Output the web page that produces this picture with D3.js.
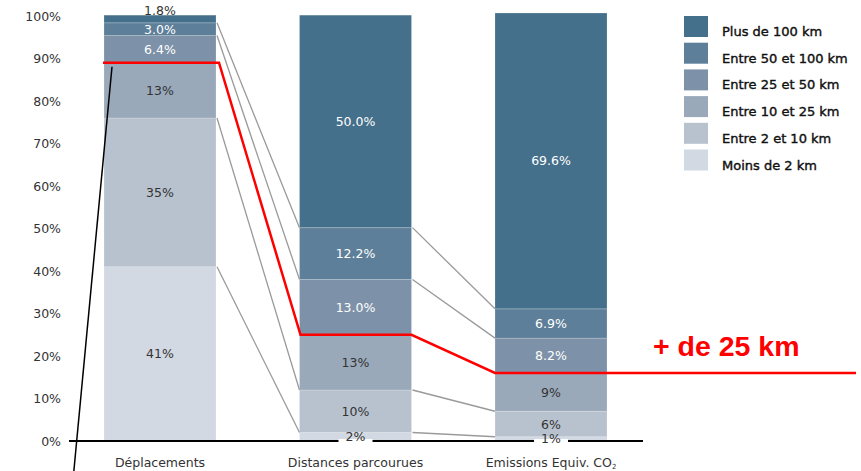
<!DOCTYPE html>
<html>
<head>
<meta charset="utf-8">
<script src="https://cdn.jsdelivr.net/npm/d3@7"></script>
<style>
  body { margin: 0; background: #fff; }
  svg { display: block; font-family: "DejaVu Sans", sans-serif; }
</style>
</head>
<body>
<div id="vis"></div>
<script>
const FRAME_WIDTH = 861;
const FRAME_HEIGHT = 471;

// data
const CATEGORIES = ["Déplacements", "Distances parcourues", "Emissions Equiv. CO"];
const CLASSES = ["Moins de 2 km", "Entre 2 et 10 km", "Entre 10 et 25 km",
                 "Entre 25 et 50 km", "Entre 50 et 100 km", "Plus de 100 km"];
const DEPLACEMENTS = [41, 35, 13, 6.4, 3.0, 1.8];
const DISTANCES = [2, 10, 13, 13.0, 12.2, 50.0];
const EMISSIONS = [1, 6, 9, 8.2, 6.9, 69.6];
const LABELS_DEPLACEMENTS = ["41%", "35%", "13%", "6.4%", "3.0%", "1.8%"];
const LABELS_DISTANCES = ["2%", "10%", "13%", "13.0%", "12.2%", "50.0%"];
const LABELS_EMISSIONS = ["1%", "6%", "9%", "8.2%", "6.9%", "69.6%"];
const Y_TICKS = [0, 10, 20, 30, 40, 50, 60, 70, 80, 90, 100];
const THRESHOLD_LABEL = "+ de 25 km";

const COLORS = ["#d3d9e2", "#b8c2cf", "#9aa9ba", "#7d92a8", "#5e7f99", "#45708b"];
const BAR_WIDTH = 112;

const SERIES = [DEPLACEMENTS, DISTANCES, EMISSIONS];
const LABELS = [LABELS_DEPLACEMENTS, LABELS_DISTANCES, LABELS_EMISSIONS];

const FRAME = d3.select("#vis")
                .append("svg")
                  .attr("width", FRAME_WIDTH)
                  .attr("height", FRAME_HEIGHT);

const X_SCALE = d3.scalePoint()
                  .domain(CATEGORIES)
                  .range([160, 551]);

const Y_SCALE = d3.scaleLinear()
                  .domain([0, 100])
                  .range([441, 16]);

// build stacked table
const TABLE = CATEGORIES.map((c, j) => {
    const cum = d3.cumsum(SERIES[j]);
    return SERIES[j].map((v, i) => ({
        cat: c, bar: j, cls: i, value: v, label: LABELS[j][i],
        y0: cum[i] - v, y1: cum[i]
    }));
});
const SEGMENTS = TABLE.flat();

const left = (j) => X_SCALE(CATEGORIES[j]) - BAR_WIDTH / 2;
const right = (j) => X_SCALE(CATEGORIES[j]) + BAR_WIDTH / 2;

// y axis (labels only)
const yAxis = FRAME.append("g")
    .attr("transform", "translate(61,0)")
    .call(d3.axisLeft(Y_SCALE).tickValues(Y_TICKS).tickSize(0).tickPadding(0)
            .tickFormat((d) => d + "%"));
yAxis.select(".domain").remove();
yAxis.selectAll("text")
    .attr("font-size", "12.5px")
    .attr("font-family", "DejaVu Sans, sans-serif")
    .attr("fill", "#333");

// bars
FRAME.selectAll(".seg")
    .data(SEGMENTS)
    .enter()
    .append("rect")
      .attr("class", "seg")
      .attr("x", (d) => left(d.bar))
      .attr("y", (d) => Y_SCALE(d.y1))
      .attr("width", BAR_WIDTH)
      .attr("height", (d) => Y_SCALE(d.y0) - Y_SCALE(d.y1))
      .attr("fill", (d) => COLORS[d.cls])
      .attr("stroke", "rgba(255,255,255,0.18)")
      .attr("stroke-width", 1);

// grey connectors between bars
const CONNECTORS = [];
for (let j = 0; j < 2; j++) {
    for (let i = 0; i < 5; i++) {
        if (i === 2) continue;
        CONNECTORS.push({
            x1: right(j) + 1, y1: Y_SCALE(TABLE[j][i].y1),
            x2: left(j + 1), y2: Y_SCALE(TABLE[j + 1][i].y1)
        });
    }
}
FRAME.selectAll(".conn")
    .data(CONNECTORS)
    .enter()
    .append("line")
      .attr("class", "conn")
      .attr("x1", (d) => d.x1)
      .attr("y1", (d) => d.y1)
      .attr("x2", (d) => d.x2)
      .attr("y2", (d) => d.y2)
      .attr("stroke", "#9a9a9a")
      .attr("stroke-width", 1.3);

// baseline
FRAME.append("line")
    .attr("x1", 69).attr("x2", 643)
    .attr("y1", Y_SCALE(0)).attr("y2", Y_SCALE(0))
    .attr("stroke", "#000")
    .attr("stroke-width", 2);

// segment labels
const darkText = (d) => d.cls >= 3;
const labelY = (d) => {
    if (d.cls === 5 && Y_SCALE(d.y0) - Y_SCALE(d.y1) < 12) return Y_SCALE(d.y1) - 5;
    return (Y_SCALE(d.y0) + Y_SCALE(d.y1)) / 2;
};

// white gaps in baseline behind bottom labels
FRAME.selectAll(".gap")
    .data(SEGMENTS.filter((d) => d.cls === 0 && d.value < 3))
    .enter()
    .append("rect")
      .attr("x", (d) => X_SCALE(d.cat) - 17)
      .attr("y", Y_SCALE(0) - 2)
      .attr("width", 34)
      .attr("height", 4)
      .attr("fill", "#fff");

FRAME.selectAll(".lbl")
    .data(SEGMENTS)
    .enter()
    .append("text")
      .attr("class", "lbl")
      .attr("x", (d) => X_SCALE(d.cat))
      .attr("y", labelY)
      .attr("dy", "0.36em")
      .attr("text-anchor", "middle")
      .attr("font-size", "12.5px")
      .attr("fill", (d) => darkText(d) && !(d.cls === 5 && d.value < 3) ? "#fff" : "#333")
      .text((d) => d.label);

// red threshold line (+ de 25 km)
const RED_POINTS = [
    [left(0) - 1, Y_SCALE(TABLE[0][2].y1)],
    [right(0) + 3, Y_SCALE(TABLE[0][2].y1)],
    [left(1) + 1, Y_SCALE(TABLE[1][2].y1)],
    [right(1), Y_SCALE(TABLE[1][2].y1)],
    [left(2), Y_SCALE(TABLE[2][2].y1)],
    [856, Y_SCALE(TABLE[2][2].y1)]
];
FRAME.append("path")
    .attr("d", d3.line()(RED_POINTS))
    .attr("fill", "none")
    .attr("stroke", "#ff0000")
    .attr("stroke-width", 2.5);

FRAME.append("text")
    .attr("x", 653)
    .attr("y", 356)
    .attr("font-family", "Liberation Sans, Arial, sans-serif")
    .attr("font-weight", "bold")
    .attr("font-size", "28.5px")
    .attr("fill", "#ff0000")
    .text(THRESHOLD_LABEL);

// black pointer line
FRAME.append("line")
    .attr("x1", left(0) + 8).attr("y1", Y_SCALE(TABLE[0][2].y1) + 4)
    .attr("x2", 73).attr("y2", 480)
    .attr("stroke", "#000")
    .attr("stroke-width", 1.5);

// category labels
const catLabels = FRAME.selectAll(".cat")
    .data(CATEGORIES)
    .enter()
    .append("text")
      .attr("class", "cat")
      .attr("x", (d) => X_SCALE(d))
      .attr("y", 467)
      .attr("text-anchor", "middle")
      .attr("font-size", "12.5px")
      .attr("fill", "#333")
      .text((d) => d);
catLabels.filter((d, i) => i === 2)
    .append("tspan")
      .attr("font-size", "7px")
      .attr("dy", "2")
      .text("2");

// legend
const LEGEND_ITEMS = CLASSES.map((c, i) => ({name: c, color: COLORS[i]})).reverse();
const legend = FRAME.selectAll(".leg")
    .data(LEGEND_ITEMS)
    .enter()
    .append("g")
      .attr("class", "leg")
      .attr("transform", (d, i) => "translate(684," + (16 + i * 26.7) + ")");
legend.append("rect")
    .attr("width", 24)
    .attr("height", 21)
    .attr("fill", (d) => d.color);
legend.append("text")
    .attr("x", 38)
    .attr("y", 20)
    .attr("font-size", "13px")
    .attr("fill", "#111")
    .attr("stroke", "#111")
    .attr("stroke-width", 0.4)
    .text((d) => d.name);
</script>
</body>
</html>
